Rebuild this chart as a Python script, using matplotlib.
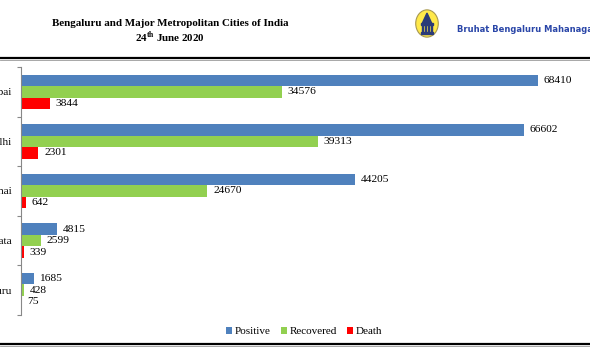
import matplotlib.pyplot as plt
from matplotlib.patches import Ellipse, Polygon, Rectangle
import numpy as np

plt.rcParams['font.family'] = ['Liberation Serif', 'DejaVu Serif']
plt.rcParams['mathtext.fontset'] = 'custom'
plt.rcParams['mathtext.rm'] = 'Liberation Serif:bold'

cities = ['Mumbai', 'Delhi', 'Chennai', 'Kolkata', 'Bengaluru']
positive = [68410, 66602, 44205, 4815, 1685]
recovered = [34576, 39313, 24670, 2599, 428]
death = [3844, 2301, 642, 339, 75]

series = [('Positive', positive, '#4F81BD'),
          ('Recovered', recovered, '#92D050'),
          ('Death', death, '#FF0000')]

W, H = 590, 354
fig = plt.figure(figsize=(W / 100, H / 100), dpi=100)

def px(x0, y0, x1, y1):
    return [x0 / W, 1 - y1 / H, (x1 - x0) / W, (y1 - y0) / H]

ax = fig.add_axes(px(21, 67, 580, 315))
y = np.arange(len(cities))
bh = 0.23
for i, (name, vals, col) in enumerate(series):
    pos = y + (i - 1) * bh
    ax.barh(pos, vals, height=bh, color=col, label=name)
    for p, v in zip(pos, vals):
        ax.text(v + 750, p, str(v), va='center', ha='left', fontsize=8.2)

ax.set_xlim(0, 74000)
ax.set_ylim(4.5, -0.5)
ax.set_xticks([])
ax.set_yticks(y)
ax.set_yticklabels(cities, fontsize=8.2)
ax.tick_params(axis='y', which='major', length=0, pad=6.5)
ax.set_yticks(np.arange(-0.5, 5, 1), minor=True)
ax.tick_params(axis='y', which='minor', length=3, color='#888888', width=0.8)
for s in ['top', 'right', 'bottom']:
    ax.spines[s].set_visible(False)
ax.spines['left'].set_color('#888888')
ax.spines['left'].set_linewidth(0.8)

fig.legend(loc='center', bbox_to_anchor=(304 / W, 1 - 331.5 / H), ncol=3,
           frameon=False, fontsize=8, handlelength=0.55, handleheight=0.55,
           handletextpad=0.25, columnspacing=0.9)

# header
fig.text(170 / W, 1 - 23 / H, 'Bengaluru and Major Metropolitan Cities of India',
         ha='center', va='center', fontsize=7.9, fontweight='bold')
fig.text(170 / W, 1 - 37 / H, '24$^{\\mathrm{th}}$ June 2020',
         ha='center', va='center', fontsize=7.9, fontweight='bold')

# rules
fig.add_artist(plt.Line2D([0, 1], [1 - 58 / H] * 2, color='black', lw=1.6))
fig.add_artist(plt.Line2D([0, 1], [1 - 60 / H] * 2, color='#999999', lw=0.6))
fig.add_artist(plt.Line2D([0, 1], [1 - 344 / H] * 2, color='black', lw=1.6))
fig.add_artist(plt.Line2D([0, 1], [1 - 346 / H] * 2, color='#999999', lw=0.6))

# logo
lg = fig.add_axes(px(415, 9, 439, 38))
lg.set_xlim(0, 1)
lg.set_ylim(0, 1)
lg.axis('off')
lg.add_patch(Ellipse((0.5, 0.5), 0.94, 0.94, facecolor='#FFE94A', edgecolor='#A89850', lw=0.8))
navy = '#2B3A78'
lg.add_patch(Polygon([(0.3, 0.5), (0.5, 0.86), (0.7, 0.5)], closed=True, color=navy))
lg.add_patch(Rectangle((0.26, 0.44), 0.48, 0.07, color=navy))
for xx in [0.3, 0.42, 0.54, 0.65]:
    lg.add_patch(Rectangle((xx, 0.2), 0.05, 0.24, color=navy))
lg.add_patch(Rectangle((0.24, 0.14), 0.52, 0.07, color=navy))

fig.text(457 / W, 1 - 29 / H, 'Bruhat Bengaluru Mahanagara Palike', ha='left', va='center',
         fontsize=6.0, fontweight='bold', color='#2A46A8', family=['DejaVu Sans'])

fig.savefig('out.png', dpi=100)
